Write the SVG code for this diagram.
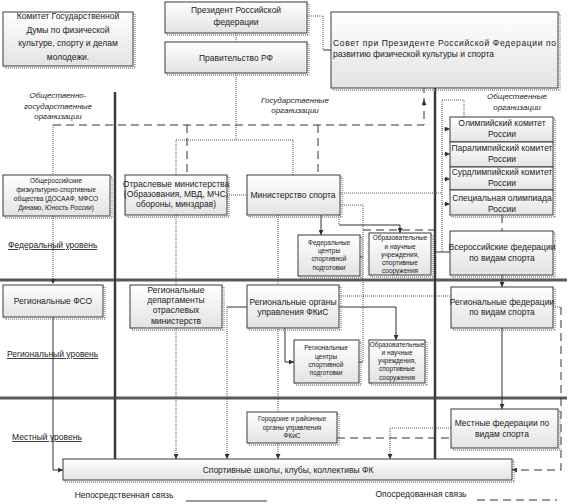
<svg xmlns="http://www.w3.org/2000/svg" width="572" height="504" viewBox="0 0 572 504">
<defs>
<linearGradient id="g" x1="0" y1="0" x2="0" y2="1"><stop offset="0" stop-color="#ffffff"/><stop offset="1" stop-color="#e3e3e3"/></linearGradient>
<marker id="ar" viewBox="0 0 6 6" refX="6" refY="3" markerWidth="5" markerHeight="5" orient="auto"><path d="M0,0 L6,3 L0,6 z" fill="#333"/></marker>
<style>
.b{fill:url(#g);stroke:#3a3a3a;stroke-width:1}
.s{fill:none;stroke:#8a8a8a;stroke-width:1.3;stroke-dasharray:1 1}
.t{font-family:"Liberation Sans",Arial,sans-serif;font-size:8.5px;fill:#222;text-anchor:middle}
.sm{font-size:6.5px}
.it{font-style:italic;font-size:8px}
.lv{font-size:8.5px;text-anchor:start;text-decoration:underline dotted}
.sol{fill:none;stroke:#333;stroke-width:1}
.dot{fill:none;stroke:#555;stroke-width:1;stroke-dasharray:1 1}
.dsh{fill:none;stroke:#333;stroke-width:1;stroke-dasharray:8 5}
.thk{stroke:#3c3c3c;stroke-width:2.5}
.dv{stroke:#5a5a5a;stroke-width:3}
</style>
</defs>
<rect width="572" height="504" fill="#fff"/>

<g id="structure">
<line class="dv" x1="0" y1="280" x2="567" y2="280"/>
<line class="dv" x1="0" y1="398" x2="567" y2="398"/>
<line class="thk" x1="115" y1="92" x2="115" y2="460"/>
<line class="thk" x1="435" y1="88" x2="435" y2="460"/>
</g>

<g id="connectors">
<path class="dot" d="M236,33 V42"/>
<path class="dot" d="M236,73 V140 M176,140 H293 M176,140 V175 M293,140 V175"/>
<path class="dsh" d="M53,125 H424 V88"/>
<path class="sol" d="M424,104 V100" marker-end="url(#ar)"/>
<path class="dsh" d="M187,125 V175"/>
<path class="dsh" d="M318,125 V175"/>
<path class="dot" d="M53,125 V175 M53,216 V284" marker-end="url(#ar)"/>
<path class="sol" d="M53,317 V470 H63" marker-end="url(#ar)"/>
<path class="dot" d="M227,195 H247"/>
<path class="dot" d="M176,215 V285 M176,328 V459" marker-end="url(#ar)"/>
<path class="dot" d="M278,215 V412 M278,443 V459" marker-end="url(#ar)"/>
<path class="sol" d="M247,307 H227"/>
<path class="dot" d="M227,307 V459" marker-end="url(#ar)"/>
<path class="sol" d="M321,215 V235" marker-end="url(#ar)"/>
<path class="dot" d="M340,205 H363 V362 M339,215 V225"/>
<path class="sol" d="M339,225 H400 V233" marker-end="url(#ar)"/>
<path class="dsh" d="M363,230 H435"/>
<path class="sol" d="M360,257 H363 M359,362 H363"/>
<path class="dot" d="M340,193 H442 M442,100 V252 M442,100 H464 V117"/>
<path class="dot" d="M442,129 H450" marker-end="url(#ar)"/>
<path class="dot" d="M442,154 H450" marker-end="url(#ar)"/>
<path class="dot" d="M442,179 H450" marker-end="url(#ar)"/>
<path class="dot" d="M442,204 H450" marker-end="url(#ar)"/>
<path class="sol" d="M435,252 H450"/>
<path class="dsh" d="M502,215 V231"/>
<path class="sol" d="M502,275 V287" marker-end="url(#ar)"/>
<path class="sol" d="M502,328 V409" marker-end="url(#ar)"/>
<path class="dot" d="M339,296 H451"/>
<path class="sol" d="M339,307 H396 V340" marker-end="url(#ar)"/>
<path class="sol" d="M285,328 V362 H294" marker-end="url(#ar)"/>
<path class="dot" d="M553,307 H561"/>
<path class="dsh" d="M561,307 V470 H512" marker-end="url(#ar)"/>
<path class="dsh" d="M337,438 H451"/>
<path class="dot" d="M451,428 H390 V459" marker-end="url(#ar)"/>
<path class="dot" d="M307,16 H323 V50"/>
<path class="sol" d="M323,50 H331"/>
</g>

<g id="duma"><rect class="s" x="5" y="14" width="130" height="54"/><rect class="b" x="3" y="12" width="130" height="54"/>
<text class="t" font-size="9.5" x="68" y="19">Комитет Государственной</text><text class="t" font-size="9.5" x="68" y="33">Думы по физической</text><text class="t" font-size="9.5" x="68" y="46">культуре, спорту и делам</text><text class="t" font-size="9.5" x="68" y="60">молодежи.</text></g>

<g id="president"><rect class="s" x="167" y="4" width="142" height="31"/><rect class="b" x="165" y="2" width="142" height="31"/>
<text class="t" font-size="9.5" x="236" y="13">Президент Российской</text><text class="t" font-size="9.5" x="236" y="25">федерации</text></g>

<g id="government"><rect class="s" x="167" y="44" width="142" height="31"/><rect class="b" x="165" y="42" width="142" height="31"/>
<text class="t" font-size="9.5" x="236" y="61">Правительство РФ</text></g>

<g id="council"><rect class="s" x="333" y="14" width="227" height="76"/><rect class="b" x="331" y="12" width="227" height="76"/>
<text class="t" font-size="9.5" x="333" y="46" textLength="223" lengthAdjust="spacing" style="text-anchor:start">Совет при Президенте Российской Федерации по</text><text class="t" font-size="9.5" x="333" y="57" style="text-anchor:start">развитию физической культуры и спорта</text></g>

<g id="labels-top">
<text class="t it" x="58" y="98">Общественно-</text><text class="t it" x="58" y="109">государственные</text><text class="t it" x="58" y="119">организации</text>
<text class="t it" x="295" y="103">Государственные</text><text class="t it" x="295" y="113">организации</text>
<text class="t it" x="517" y="99">Общественные</text><text class="t it" x="517" y="110">организации</text>
</g>

<g id="olympic"><rect class="s" x="452" y="119" width="103" height="98"/>
<rect class="b" x="450" y="117" width="103" height="25"/><text class="t" font-size="7.8" x="502" y="126">Олимпийский комитет</text><text class="t" font-size="7.8" x="502" y="137">России</text>
<rect class="b" x="450" y="142" width="103" height="25"/><text class="t" font-size="7.8" x="502" y="151">Паралимпийский комитет</text><text class="t" font-size="7.8" x="502" y="162">России</text>
<rect class="b" x="450" y="167" width="103" height="23"/><text class="t" font-size="7.8" x="502" y="175">Сурдлимпийский комитет</text><text class="t" font-size="7.8" x="502" y="186">России</text>
<rect class="b" x="450" y="190" width="103" height="25"/><text class="t" font-size="7.8" x="502" y="201">Специальная олимпиада</text><text class="t" font-size="7.8" x="502" y="212">России</text></g>

<g id="fso"><rect class="s" x="5" y="177" width="107" height="41"/><rect class="b" x="3" y="175" width="107" height="41"/>
<text class="t sm" x="56" y="183">Общероссийские</text><text class="t sm" x="56" y="192">физкультурно-спортивные</text><text class="t sm" x="56" y="201">общества (ДОСААФ, МФСО</text><text class="t sm" x="56" y="210">Динамо, Юность России)</text></g>

<g id="branch-ministries"><rect class="s" x="127" y="177" width="102" height="40"/><rect class="b" x="125" y="175" width="102" height="40"/>
<text class="t" font-size="8" x="176" y="187">Отраслевые министерства</text><text class="t" font-size="8" x="176" y="197">(Образования, МВД, МЧС,</text><text class="t" font-size="8" x="176" y="207">обороны, минздрав)</text></g>

<g id="minsport"><rect class="s" x="249" y="177" width="93" height="40"/><rect class="b" x="247" y="175" width="93" height="40"/>
<text class="t" x="293" y="198">Министерство спорта</text></g>

<g id="fed-centers"><rect class="s" x="300" y="237" width="62" height="41"/><rect class="b" x="298" y="235" width="62" height="41"/>
<text class="t sm" x="329" y="245">Федеральные</text><text class="t sm" x="329" y="253">центры</text><text class="t sm" x="329" y="261">спортивной</text><text class="t sm" x="329" y="270">подготовки</text></g>

<g id="fed-edu"><rect class="s" x="371" y="235" width="62" height="42"/><rect class="b" x="369" y="233" width="62" height="42"/>
<text class="t sm" x="400" y="240">Образовательные</text><text class="t sm" x="400" y="249">и научные</text><text class="t sm" x="400" y="257">учреждения,</text><text class="t sm" x="400" y="265">спортивные</text><text class="t sm" x="400" y="273">сооружения</text></g>

<g id="all-russian-fed"><rect class="s" x="452" y="233" width="103" height="44"/><rect class="b" x="450" y="231" width="103" height="44"/>
<text class="t" font-size="8.2" x="502" y="250">Всероссийские федерации</text><text class="t" font-size="8.2" x="502" y="261">по видам спорта</text></g>

<g id="reg-fso"><rect class="s" x="5" y="287" width="100" height="32"/><rect class="b" x="3" y="285" width="100" height="32"/>
<text class="t" x="53" y="304">Региональные ФСО</text></g>

<g id="reg-departments"><rect class="s" x="132" y="287" width="92" height="43"/><rect class="b" x="130" y="285" width="92" height="43"/>
<text class="t" font-size="8" x="176" y="293">Региональные</text><text class="t" font-size="8" x="176" y="303">департаменты</text><text class="t" font-size="8" x="176" y="313">отраслевых</text><text class="t" font-size="8" x="176" y="324">министерств</text></g>

<g id="reg-organs"><rect class="s" x="249" y="287" width="92" height="43"/><rect class="b" x="247" y="285" width="92" height="43"/>
<text class="t" font-size="9" x="293" y="305">Региональные органы</text><text class="t" font-size="9" x="293" y="315">управления ФКиС</text></g>

<g id="reg-centers"><rect class="s" x="296" y="342" width="65" height="43"/><rect class="b" x="294" y="340" width="65" height="43"/>
<text class="t sm" x="326" y="350">Региональные</text><text class="t sm" x="326" y="359">центры</text><text class="t sm" x="326" y="367">спортивной</text><text class="t sm" x="326" y="375">подготовки</text></g>

<g id="reg-edu"><rect class="s" x="371" y="342" width="56" height="43"/><rect class="b" x="369" y="340" width="56" height="43"/>
<text class="t sm" x="397" y="347">Образовательные</text><text class="t sm" x="397" y="355">и научные</text><text class="t sm" x="397" y="363">учреждения,</text><text class="t sm" x="397" y="371">спортивные</text><text class="t sm" x="397" y="380">сооружения</text></g>

<g id="reg-federations"><rect class="s" x="453" y="289" width="102" height="41"/><rect class="b" x="451" y="287" width="102" height="41"/>
<text class="t" font-size="8.2" x="502" y="305">Региональные федерации</text><text class="t" font-size="8.2" x="502" y="315">по видам спорта</text></g>

<g id="town-organs"><rect class="s" x="249" y="414" width="90" height="31"/><rect class="b" x="247" y="412" width="90" height="31"/>
<text class="t sm" x="292" y="421">Городские и районные</text><text class="t sm" x="292" y="430">органы управления</text><text class="t sm" x="292" y="438">ФКиС</text></g>

<g id="local-federations"><rect class="s" x="453" y="411" width="107" height="39"/><rect class="b" x="451" y="409" width="107" height="39"/>
<text class="t" font-size="8.2" x="502" y="426">Местные федерации по</text><text class="t" font-size="8.2" x="502" y="437">видам спорта</text></g>

<g id="schools"><rect class="s" x="65" y="461" width="449" height="21"/><rect class="b" x="63" y="459" width="449" height="21"/>
<text class="t" x="288" y="473">Спортивные школы, клубы, коллективы ФК</text></g>

<g id="levels">
<text class="t lv" x="8" y="248">Федеральный уровень</text>
<text class="t lv" x="7" y="357">Региональный уровень</text>
<text class="t lv" x="12" y="440">Местный уровень</text>
</g>

<g id="legend">
<text class="t" font-size="8" x="124" y="498">Непосредственная связь</text>
<line class="sol" x1="186" y1="501" x2="267" y2="501"/>
<text class="t" font-size="8" x="421" y="497">Опосредованная связь</text>
<line class="dsh" x1="477" y1="500" x2="557" y2="500"/>
</g>
</svg>
